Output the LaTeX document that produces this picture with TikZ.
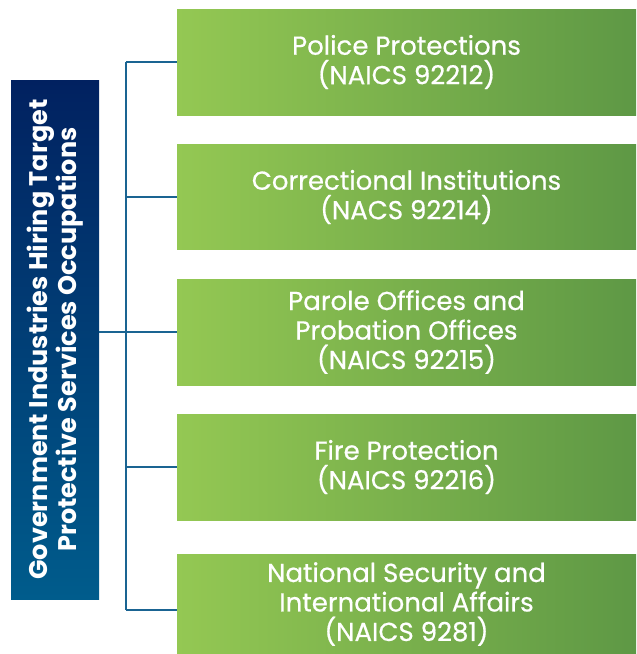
\documentclass[tikz,border=0pt]{standalone}
\usepackage{fontspec}
\newfontfamily\popfont{Poppins}
\newfontfamily\popmed[FakeBold=0.6]{Poppins}
\usetikzlibrary{calc}
\definecolor{navytop}{RGB}{1,33,96}
\definecolor{tealbot}{RGB}{0,92,140}
\definecolor{greenL}{RGB}{148,200,83}
\definecolor{greenR}{RGB}{94,152,69}
\definecolor{linkc}{RGB}{26,100,146}
\tikzset{
  titlebox/.style={rotate=90, minimum width=519pt, minimum height=88pt, inner sep=0pt,
    top color=navytop, bottom color=tealbot, text=white, align=center,
    font=\popfont\bfseries\fontsize{25.5}{27}\selectfont},
  catbox/.style={minimum width=459pt, inner sep=0pt, left color=greenL, right color=greenR,
    text=white, align=center, font=\popmed\fontsize{26}{29.5}\selectfont},
  link/.style={draw=linkc, line width=2.4pt}
}
\begin{document}
\begin{tikzpicture}[x=1pt,y=-1pt]
\useasboundingbox (0,0) rectangle (637,654);
\node[titlebox] (title) at (55,339.5) {Government Industries Hiring Target\\Protective Services Occupations};
\node[catbox, minimum height=106pt] (b1) at (406.5,62) {Police Protections\\(NAICS 92212)};
\node[catbox, minimum height=105pt] (b2) at (406.5,197) {Correctional Institutions\\(NACS 92214)};
\node[catbox, minimum height=106pt] (b3) at (406.5,332) {Parole Offices and\\Probation Offices\\(NAICS 92215)};
\node[catbox, minimum height=106pt] (b4) at (406.5,467) {Fire Protection\\(NAICS 92216)};
\node[catbox, minimum height=100pt] (b5) at (406.5,604) {National Security and\\International Affairs\\(NAICS 9281)};
\coordinate (spine) at (126,0);
\coordinate (b5in) at ($(b5.west)+(0,6)$);
\draw[link] (spine |- b1.west) -- (spine |- b5in);
\foreach \b in {b1,b2,b3,b4,b5in} {\draw[link] (spine |- \b) -- (\b);}
\draw[link] (title.south |- b3.west) -- (spine |- b3.west);
\end{tikzpicture}
\end{document}
